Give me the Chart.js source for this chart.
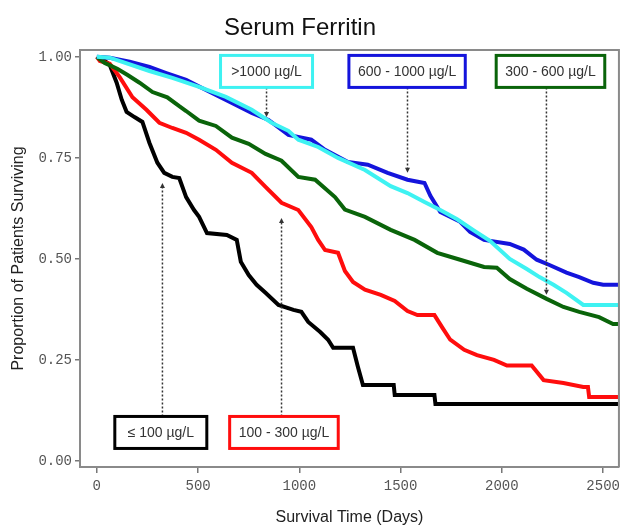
<!DOCTYPE html>
<html>
<head>
<meta charset="utf-8">
<script src="https://cdn.jsdelivr.net/npm/chart.js@4"></script>
<style>
  html, body { margin: 0; padding: 0; background: #ffffff; }
  #wrap { width: 625px; height: 527px; position: relative; }
</style>
</head>
<body>
<div id="wrap"><canvas id="c" width="625" height="527"></canvas></div>
<script>
// ---- Data ----
const chartTitle = 'Serum Ferritin';
const xAxisTitle = 'Survival Time (Days)';
const yAxisTitle = 'Proportion of Patients Surviving';
const xTickValues = [0, 500, 1000, 1500, 2000, 2500];
const yTickValues = [0, 0.25, 0.5, 0.75, 1.0];
const seriesNames = ['≤ 100 µg/L', '100 - 300 µg/L', '300 - 600 µg/L', '600 - 1000 µg/L', '>1000 µg/L'];

const timesLe100 = [0, 40, 64, 98, 123, 147, 186, 225, 260, 299, 333, 373, 407, 441, 480, 505, 544, 642, 691, 711, 750, 789, 833, 897, 971, 1010, 1044, 1103, 1142, 1167, 1265, 1289, 1314, 1466, 1471, 1667, 1672, 2600];
const survLe100  = [1.0, 0.99, 0.98, 0.936, 0.894, 0.864, 0.851, 0.839, 0.787, 0.738, 0.713, 0.703, 0.70, 0.653, 0.621, 0.604, 0.564, 0.559, 0.547, 0.493, 0.46, 0.436, 0.416, 0.386, 0.374, 0.369, 0.344, 0.319, 0.30, 0.28, 0.28, 0.233, 0.188, 0.188, 0.163, 0.163, 0.141, 0.141];

const times100to300 = [0, 15, 64, 113, 176, 245, 309, 373, 441, 505, 588, 667, 765, 833, 912, 995, 1059, 1093, 1127, 1191, 1225, 1265, 1324, 1402, 1471, 1534, 1583, 1667, 1706, 1745, 1814, 1877, 1961, 2025, 2147, 2206, 2304, 2402, 2425, 2431, 2600];
const surv100to300  = [1.0, 0.99, 0.983, 0.95, 0.90, 0.869, 0.837, 0.824, 0.812, 0.795, 0.770, 0.738, 0.713, 0.678, 0.639, 0.621, 0.579, 0.547, 0.522, 0.515, 0.47, 0.443, 0.424, 0.411, 0.396, 0.371, 0.361, 0.361, 0.33, 0.30, 0.275, 0.262, 0.25, 0.236, 0.236, 0.20, 0.193, 0.183, 0.183, 0.158, 0.158];

const times300to600 = [0, 39, 103, 152, 211, 275, 348, 407, 441, 505, 588, 667, 750, 833, 912, 995, 1078, 1176, 1225, 1324, 1451, 1569, 1681, 1794, 1912, 1975, 2039, 2123, 2221, 2304, 2382, 2480, 2549, 2600];
const surv300to600  = [1.0, 0.985, 0.97, 0.955, 0.936, 0.913, 0.90, 0.878, 0.866, 0.842, 0.829, 0.80, 0.785, 0.76, 0.743, 0.703, 0.696, 0.653, 0.622, 0.604, 0.572, 0.547, 0.515, 0.498, 0.48, 0.478, 0.45, 0.426, 0.401, 0.381, 0.369, 0.356, 0.339, 0.339];

const times600to1000 = [0, 64, 162, 260, 343, 441, 539, 667, 765, 848, 946, 1059, 1127, 1240, 1338, 1436, 1534, 1618, 1647, 1696, 1794, 1843, 1912, 2039, 2108, 2172, 2235, 2319, 2382, 2451, 2500, 2600];
const surv600to1000  = [1.0, 0.998, 0.988, 0.975, 0.96, 0.943, 0.918, 0.886, 0.861, 0.844, 0.807, 0.795, 0.77, 0.74, 0.733, 0.713, 0.696, 0.688, 0.656, 0.616, 0.592, 0.567, 0.547, 0.537, 0.523, 0.498, 0.485, 0.466, 0.455, 0.441, 0.436, 0.436];

const timesGt1000 = [0, 64, 260, 373, 505, 637, 765, 863, 946, 995, 1093, 1191, 1324, 1451, 1534, 1618, 1696, 1779, 1863, 1941, 2039, 2123, 2186, 2255, 2319, 2402, 2600];
const survGt1000  = [1.0, 0.998, 0.965, 0.948, 0.926, 0.901, 0.869, 0.837, 0.817, 0.795, 0.777, 0.750, 0.72, 0.68, 0.663, 0.641, 0.621, 0.598, 0.57, 0.545, 0.50, 0.475, 0.455, 0.436, 0.416, 0.386, 0.386];

// annotation callouts (data coordinates)
const calloutBoxX   = [316, 924, 2240, 1532, 838];
const calloutBoxY   = [0.0705, 0.0705, 0.964, 0.964, 0.964];
const calloutArrowX = [324, 912, 2220, 1534, 838];
const calloutTipY   = [0.688, 0.601, 0.411, 0.713, 0.851];

// ---- Styles ----
const seriesColors = ['#000000', '#ff0d0d', '#0a640a', '#1414dc', '#3ef2f2'];
const drawOrder = [5, 4, 3, 2, 1];

function pts(t, s) { return t.map((v, i) => ({ x: v, y: s[i] })); }
const seriesData = [
  pts(timesLe100, survLe100),
  pts(times100to300, surv100to300),
  pts(times300to600, surv300to600),
  pts(times600to1000, surv600to1000),
  pts(timesGt1000, survGt1000)
];

const datasets = seriesNames.map((n, i) => ({
  label: n,
  data: seriesData[i],
  borderColor: seriesColors[i],
  backgroundColor: seriesColors[i],
  borderWidth: 4,
  pointRadius: 0,
  tension: 0,
  fill: false,
  order: drawOrder[i]
}));

const decor = {
  id: 'decor',
  afterDraw(chart) {
    const { ctx, chartArea: a, scales: { x, y } } = chart;
    ctx.save();
    // frame top/right
    ctx.strokeStyle = '#8a8a8a';
    ctx.lineWidth = 2;
    ctx.beginPath();
    ctx.moveTo(a.left, a.top);
    ctx.lineTo(a.right, a.top);
    ctx.lineTo(a.right, a.bottom);
    ctx.stroke();
    // title
    ctx.fillStyle = '#111';
    ctx.font = '24px "Liberation Sans", Arial, sans-serif';
    ctx.textAlign = 'center';
    ctx.textBaseline = 'middle';
    ctx.fillText(chartTitle, 300, 28);
    // callouts
    ctx.font = '14px "Liberation Sans", Arial, sans-serif';
    seriesNames.forEach((lab, i) => {
      const cx = x.getPixelForValue(calloutBoxX[i]);
      const cy = y.getPixelForValue(calloutBoxY[i]);
      const tw = ctx.measureText(lab).width;
      const w = Math.max(tw + 18, 92);
      const h = 32;
      const ax = x.getPixelForValue(calloutArrowX[i]);
      const ty = y.getPixelForValue(calloutTipY[i]);
      const up = ty < cy;
      const sy = up ? cy - h / 2 : cy + h / 2;
      // dotted arrow
      ctx.strokeStyle = '#333';
      ctx.lineWidth = 1.5;
      ctx.setLineDash([2, 2]);
      ctx.beginPath();
      ctx.moveTo(ax, sy);
      ctx.lineTo(ax, up ? ty + 4 : ty - 4);
      ctx.stroke();
      ctx.setLineDash([]);
      ctx.fillStyle = '#333';
      ctx.beginPath();
      if (up) { ctx.moveTo(ax, ty); ctx.lineTo(ax - 2.5, ty + 5); ctx.lineTo(ax + 2.5, ty + 5); }
      else { ctx.moveTo(ax, ty); ctx.lineTo(ax - 2.5, ty - 5); ctx.lineTo(ax + 2.5, ty - 5); }
      ctx.closePath();
      ctx.fill();
      // box
      ctx.fillStyle = '#fff';
      ctx.fillRect(cx - w / 2, cy - h / 2, w, h);
      ctx.strokeStyle = seriesColors[i];
      ctx.lineWidth = 3;
      ctx.strokeRect(cx - w / 2, cy - h / 2, w, h);
      ctx.fillStyle = '#333';
      ctx.textAlign = 'center';
      ctx.textBaseline = 'middle';
      ctx.fillText(lab, cx, cy + 1);
    });
    ctx.restore();
  }
};

new Chart(document.getElementById('c'), {
  type: 'line',
  data: { datasets },
  plugins: [decor],
  options: {
    responsive: false,
    animation: false,
    layout: { padding: { top: 50, right: 2, left: 0, bottom: 0 } },
    plugins: { legend: { display: false }, tooltip: { enabled: false }, title: { display: false } },
    scales: {
      x: {
        type: 'linear',
        min: -83,
        max: 2578,
        afterBuildTicks: s => { s.ticks = xTickValues.map(v => ({ value: v })); },
        afterFit: s => { s.height = 60; },
        ticks: {
          callback: v => String(v),
          font: { family: '"Liberation Mono", "DejaVu Sans Mono", monospace', size: 14 },
          color: '#555',
          padding: 5,
          maxRotation: 0
        },
        grid: { drawOnChartArea: false, drawTicks: true, tickLength: 6, color: '#777', lineWidth: 1.5 },
        border: { display: true, color: '#8a8a8a', width: 2 },
        title: {
          display: true,
          text: xAxisTitle,
          font: { family: '"Liberation Sans", Arial, sans-serif', size: 16 },
          color: '#222',
          padding: { top: 0, bottom: 0 }
        }
      },
      y: {
        type: 'linear',
        min: -0.015,
        max: 1.017,
        afterBuildTicks: s => { s.ticks = yTickValues.map(v => ({ value: v })); },
        afterFit: s => { s.width = 80; },
        ticks: {
          callback: v => Number(v).toFixed(2),
          font: { family: '"Liberation Mono", "DejaVu Sans Mono", monospace', size: 14 },
          color: '#555',
          padding: 3
        },
        grid: { drawOnChartArea: false, drawTicks: true, tickLength: 5, color: '#777', lineWidth: 1.5 },
        border: { display: true, color: '#8a8a8a', width: 2 },
        title: {
          display: true,
          text: yAxisTitle,
          font: { family: '"Liberation Sans", Arial, sans-serif', size: 16 },
          color: '#222',
          padding: { top: 9, bottom: 0 }
        }
      }
    }
  }
});
</script>
</body>
</html>
